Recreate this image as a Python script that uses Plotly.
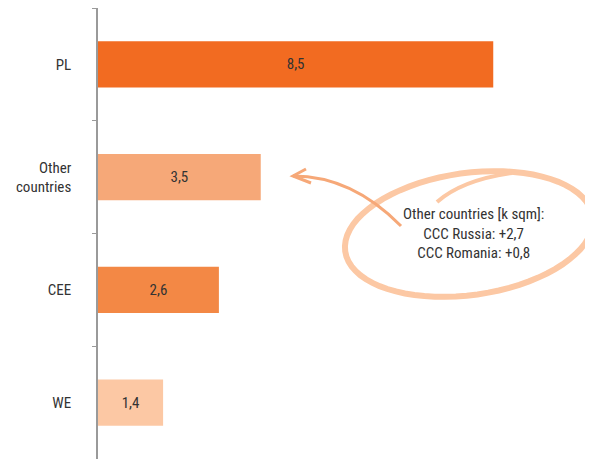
import math
import plotly.graph_objects as go

categories = ["PL", "Other<br>countries", "CEE", "WE"]
values = [8.5, 3.5, 2.6, 1.4]
labels = ["8,5", "3,5", "2,6", "1,4"]
colors = ["#F26B21", "#F6A878", "#F38845", "#FCC8A4"]
note_lines = ["Other countries [k sqm]:", "CCC Russia: +2,7", "CCC Romania: +0,8"]

# page body has ~8px margin, so figure is sized/offset to compensate
OFF = 8
W, H = 585, 451
L, R, T, B = 90, 30, 0, 0
FONT = "Liberation Sans Narrow, Roboto Condensed, Noto Sans, sans-serif"

def px(x):
    return (x - OFF - L) / (W - L - R)

def py(y):
    return (H - B - (y - OFF)) / (H - T - B)

fig = go.Figure(go.Bar(
    y=categories, x=values, orientation="h",
    marker=dict(color=colors, line=dict(width=0)),
    text=labels, textposition="inside", insidetextanchor="middle",
    textfont=dict(color="#333333", size=15, family=FONT),
    width=0.41, hoverinfo="skip",
))

# tilted hand-drawn ellipse (decoration)
cx, cy, ea, eb, rot = 469, 234, 125, 61, math.radians(-8)
pts = []
for i in range(73):
    t = 2 * math.pi * i / 72
    x = cx + ea * math.cos(t) * math.cos(rot) - eb * math.sin(t) * math.sin(rot)
    y = cy + ea * math.cos(t) * math.sin(rot) + eb * math.sin(t) * math.cos(rot)
    pts.append(f"{px(x):.5f},{py(y):.5f}")
ell_path = "M " + " L ".join(pts)

shapes = []
shapes.append(dict(type="path", xref="paper", yref="paper", path=ell_path,
                   line=dict(color="#FCC8A4", width=6)))
# overlapping tail of ellipse, merging into the top of the loop
shapes.append(dict(type="path", xref="paper", yref="paper",
                   path=f"M {px(437)},{py(202)} Q {px(462)},{py(180)} {px(512)},{py(173)}",
                   line=dict(color="#FCC8A4", width=4)))
# arrow
shapes.append(dict(type="path", xref="paper", yref="paper",
                   path=f"M {px(401)},{py(226)} Q {px(352)},{py(176)} {px(293)},{py(176)}",
                   line=dict(color="#F6A878", width=3)))
shapes.append(dict(type="path", xref="paper", yref="paper",
                   path=f"M {px(306)},{py(169)} L {px(293)},{py(176)} L {px(311)},{py(183)}",
                   line=dict(color="#F6A878", width=3)))

fig.update_layout(
    width=W, height=H,
    margin=dict(l=L, r=R, t=T, b=B, autoexpand=False),
    plot_bgcolor="white", paper_bgcolor="white",
    showlegend=False,
    bargap=0.59,
    font=dict(family=FONT, size=15, color="#333333"),
    xaxis=dict(range=[0, 10], visible=False, fixedrange=True),
    yaxis=dict(autorange="reversed", showline=True, linecolor="#9a9a9a", linewidth=1.5,
               ticks="outside", ticklen=4, tickcolor="#9a9a9a", tickson="boundaries",
               ticklabelstandoff=22, showgrid=False, zeroline=False, automargin=False,
               tickfont=dict(size=15, color="#333333", family=FONT)),
    shapes=shapes,
    annotations=[dict(xref="paper", yref="paper", x=px(473), y=py(233),
                      text="<br>".join(note_lines), showarrow=False,
                      align="center", xanchor="center", yanchor="middle",
                      font=dict(size=15, color="#333333", family=FONT))],
)

fig.write_html("out.html")
